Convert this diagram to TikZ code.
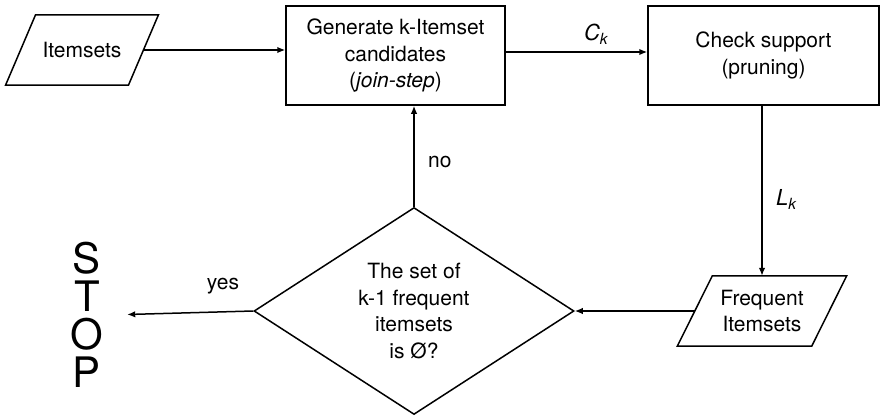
\documentclass[tikz,border=0pt]{standalone}
\usepackage{fontspec}
\setmainfont{TeX Gyre Heros}
\usetikzlibrary{arrows.meta,shapes.geometric}

\tikzset{
  flow/.style={line width=1.5pt},
  arr/.style={flow,-{Latex[length=8pt,width=6.5pt]}},
  txt/.style={font=\fontsize{21}{26.7}\selectfont, align=center},
  procbox/.style={txt, draw, flow, rectangle, inner sep=0pt},
  % parallelogram body: the node holds the mid-line, the outline is drawn slanted
  iobody/.style={txt, rectangle, inner sep=0pt},
  decision/.style={txt, draw, flow, diamond, inner sep=0pt,
    minimum width=320pt, minimum height=204pt},
  lbl/.style={font=\fontsize{21}{25}\selectfont},
}

% slanted input/output outline around a node of the iobody style
\newcommand{\ioshape}[2]{%
  \draw[flow, line join=miter]
    ([xshift=#2]#1.north west) -- ([xshift=#2]#1.north east) --
    ([xshift=-#2]#1.south east) -- ([xshift=-#2]#1.south west) -- cycle;}

\begin{document}
\begin{tikzpicture}[x=1pt, y=-1pt]
  \useasboundingbox (0,0) rectangle (880,415);

  % nodes
  \node[iobody, minimum width=122.5pt, minimum height=70pt] (items) at (82,50) {Itemsets};
  \ioshape{items}{15pt}

  \node[procbox, minimum width=219pt, minimum height=99pt] (gen) at (395.5,55.5)
    {Generate k-Itemset\\candidates\\(\textit{join-step})};

  \node[procbox, minimum width=231pt, minimum height=99pt] (check) at (763.5,55.5)
    {Check support\\(pruning)};

  \node[iobody, minimum width=134pt, minimum height=70pt] (freq) at (762,311)
    {Frequent\\Itemsets};
  \ioshape{freq}{17.5pt}

  \node[decision] (dia) at (414,311)
    {The set of\\k-1 frequent\\itemsets\\is Ø?};

  \node[align=center, inner sep=0pt, minimum width=80pt,
        font=\fontsize{42}{38}\selectfont] (stop) at (87,314.5) {S\\T\\O\\P};

  % connectors
  \draw[arr] (items.east) -- (items.east -| gen.west);
  \draw[arr] ([yshift=3.5pt]gen.east) -- ([yshift=3.5pt]check.west)
    node[pos=0.64, above=3pt, font=\fontsize{22}{26}\selectfont]
      {\textit{C}\textsubscript{\textit{k}}};
  \draw[arr] (check.south -| freq.north) -- (freq.north)
    node[pos=0.55, right=10pt, font=\fontsize{22}{26}\selectfont]
      {\textit{L}\textsubscript{\textit{k}}};
  \draw[arr] (freq.west) -- (dia.east);
  \draw[arr] (dia.north) -- (dia.north |- gen.south)
    node[pos=0.44, right=10pt, lbl] {no};
  \draw[arr] (dia.west) -- (stop.east)
    node[pos=0.24, above=14pt, lbl] {yes};
\end{tikzpicture}
\end{document}
